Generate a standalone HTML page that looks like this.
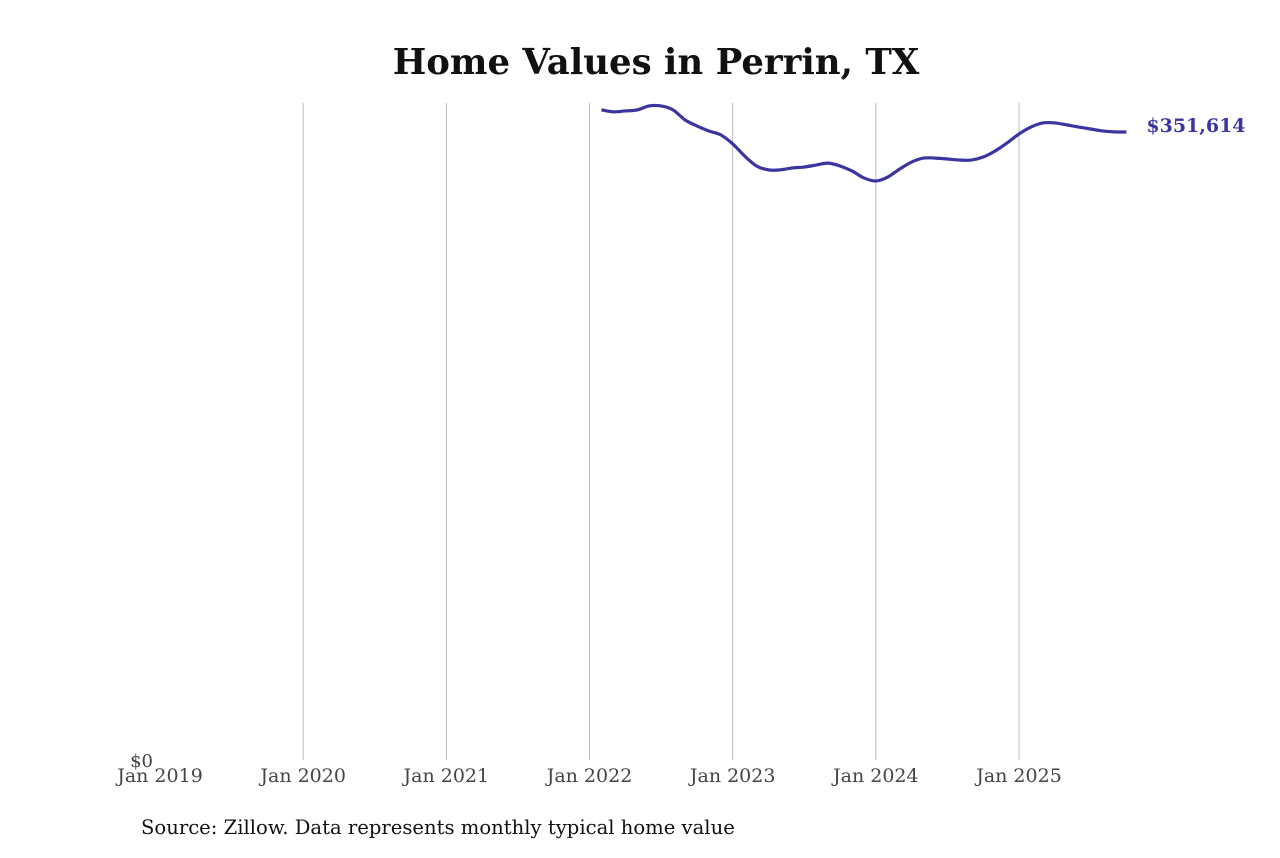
<!DOCTYPE html>
<html><head><meta charset="utf-8"><style>
body{margin:0;background:#fff;}
svg text{font-family:"DejaVu Serif","Liberation Serif",serif;}
</style></head><body>
<svg id="chart" width="1280" height="853">
<text x="656" y="74" text-anchor="middle" font-size="35.5" font-weight="bold" fill="#111">Home Values in Perrin, TX</text>
<g id="grid"></g>
<g id="xticks"></g>
<text x="153" y="767" text-anchor="end" font-size="18" fill="#444">$0</text>
<path id="line" fill="none" stroke="#3a35a0" stroke-width="3.2" stroke-linejoin="round"/>
<text id="endlabel" font-size="19" font-weight="bold" fill="#3a35a0"></text>
<text x="141" y="834" font-size="19.6" fill="#111">Source: Zillow. Data represents monthly typical home value</text>
</svg>
<script>
const tickLabels=["Jan 2019","Jan 2020","Jan 2021","Jan 2022","Jan 2023","Jan 2024","Jan 2025"];
const startMonth=37; // months since Jan 2019 (Feb 2022)
const values=[364000,362900,363400,364000,366200,366200,364000,358400,355000,352200,350000,345000,338200,332600,330400,330400,331500,332000,333100,334200,332600,329800,325900,324200,326400,330900,334800,337000,337000,336500,335900,335900,337600,341000,345500,350500,354400,356700,356700,355600,354400,353300,352200,351700,351614];
const X=m=>160+m*(859/72);
const Y=v=>760-v*(628/351614);
const ns="http://www.w3.org/2000/svg";
const grid=document.getElementById('grid'),xt=document.getElementById('xticks');
tickLabels.forEach((t,i)=>{
  const x=X(i*12);
  if(i>0){const l=document.createElementNS(ns,'line');
    l.setAttribute('x1',x);l.setAttribute('x2',x);l.setAttribute('y1',103);l.setAttribute('y2',760);
    l.setAttribute('stroke','#bbb');l.setAttribute('stroke-width','1');
    
    
    grid.appendChild(l);}
  const tx=document.createElementNS(ns,'text');
  tx.setAttribute('x',x);tx.setAttribute('y',782);tx.setAttribute('text-anchor','middle');
  tx.setAttribute('font-size','19');tx.setAttribute('fill','#444');tx.textContent=t;
  
  
  xt.appendChild(tx);
});
const pts=values.map((v,i)=>[X(startMonth+i),Y(v)]);
let d='M'+pts[0][0]+','+pts[0][1];
for(let i=1;i<pts.length;i++){
  const p0=pts[Math.max(0,i-2)],p1=pts[i-1],p2=pts[i],p3=pts[Math.min(pts.length-1,i+1)];
  d+=` C${p1[0]+(p2[0]-p0[0])/6},${p1[1]+(p2[1]-p0[1])/6} ${p2[0]-(p3[0]-p1[0])/6},${p2[1]-(p3[1]-p1[1])/6} ${p2[0]},${p2[1]}`;
}
document.getElementById('line').setAttribute('d',d);
const last=pts[pts.length-1],el=document.getElementById('endlabel');
el.setAttribute('x',last[0]+20);el.setAttribute('y',last[1]+0);
el.textContent='$'+values[values.length-1].toLocaleString('en-US');
</script>
</body></html>
